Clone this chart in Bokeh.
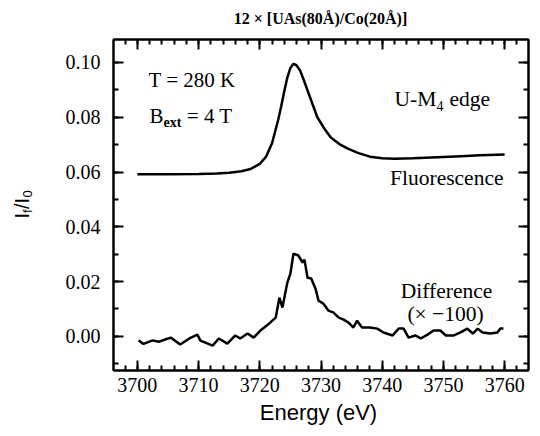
import math
from bokeh.plotting import figure
from bokeh.models import (LinearAxis, SingleIntervalTicker, PrintfTickFormatter, Label,
                          CustomJSTickFormatter)
from bokeh.embed import file_html
from bokeh.resources import INLINE

# ---- data ----
fluo_e = [3700, 3705, 3710, 3713, 3715, 3717, 3718.5, 3720, 3721, 3722, 3723, 3723.5,
          3724, 3724.5, 3725, 3725.5, 3726, 3726.6, 3727.2, 3727.8, 3728.5, 3729.4,
          3730.5, 3731.6, 3733, 3734.3, 3736, 3738, 3740, 3742, 3745, 3748, 3752, 3756, 3760]
fluo_i = [0.0592, 0.0592, 0.0593, 0.0595, 0.0597, 0.0603, 0.0611, 0.0630, 0.0655, 0.0705,
          0.0790, 0.0840, 0.0895, 0.0945, 0.0980, 0.0995, 0.0990, 0.0970, 0.0935, 0.0898,
          0.0855, 0.0800, 0.0760, 0.0726, 0.0702, 0.0686, 0.0670, 0.0656, 0.0650, 0.0648,
          0.0650, 0.0653, 0.0657, 0.0661, 0.0664]

diff_e = [3700.2, 3701.0, 3702.5, 3703.5, 3704.5, 3705.5, 3707.0, 3708.5, 3709.8, 3710.3,
          3712.3, 3713.3, 3714.7, 3716.0, 3716.8, 3718.0, 3719.0, 3720.1, 3721.5, 3722.6,
          3723.2, 3723.7, 3724.5, 3725.0, 3725.5, 3726.3, 3727.0, 3727.3, 3727.8, 3728.4,
          3729.1, 3729.6, 3730.4, 3731.2, 3732.0, 3732.9, 3733.7, 3734.5, 3735.3, 3735.9,
          3736.7, 3738.0, 3739.2, 3740.2, 3741.7, 3742.7, 3743.5, 3744.3, 3745.4, 3746.3,
          3747.4, 3748.4, 3749.5, 3750.4, 3751.7, 3752.8, 3753.9, 3754.8, 3755.6, 3756.4,
          3757.7, 3758.8, 3759.3, 3759.8]
diff_i = [-0.0015, -0.0028, -0.0015, -0.0020, -0.0012, -0.0005, -0.0030, -0.0008, 0.0006, -0.0016,
          -0.0034, -0.0008, -0.0027, 0.0003, -0.0008, 0.0010, -0.0005, 0.0021, 0.0046, 0.0068,
          0.0141, 0.0105, 0.0196, 0.0229, 0.0302, 0.0295, 0.0269, 0.0280, 0.0214, 0.0211,
          0.0174, 0.0130, 0.0119, 0.0094, 0.0087, 0.0068, 0.0061, 0.0050, 0.0032, 0.0057,
          0.0032, 0.0032, 0.0028, 0.0014, 0.0003, 0.0028, 0.0028, -0.0005, 0.0003, -0.0008,
          0.0006, 0.0021, 0.0021, 0.0003, 0.0003, 0.0014, 0.0028, 0.0010, 0.0028, 0.0014,
          0.0010, 0.0014, 0.0028, 0.0028]

title_text = "12 × [UAs(80Å)/Co(20Å)]"
x_label = "Energy (eV)"

SERIF = "Liberation Serif"
SANS = "Liberation Sans"

# frame in picture pixels: left 113, top 39, right 528, bottom 370
W, H = 532, 428
FL, FT, FR, FB = 113, 39, 528, 370
K = 0.34  # empirical shift of the drawn baseline, in em

p = figure(width=W, height=H, x_range=(3696.1, 3763.9), y_range=(-0.0125, 0.1084),
           output_backend="svg", toolbar_location=None,
           min_border_left=FL, min_border_right=W - FR, min_border_top=FT,
           min_border_bottom=H - FB)
p.xgrid.visible = False
p.ygrid.visible = False
p.background_fill_color = "white"
p.border_fill_color = "white"
p.outline_line_color = "black"
p.outline_line_width = 2

p.xaxis.ticker = SingleIntervalTicker(interval=10, num_minor_ticks=5)
p.yaxis.ticker = SingleIntervalTicker(interval=0.02, num_minor_ticks=2)
p.xaxis.formatter = PrintfTickFormatter(format="%d")
p.yaxis.formatter = PrintfTickFormatter(format="%.2f")

blank = CustomJSTickFormatter(code="return ''")
top = LinearAxis(ticker=SingleIntervalTicker(interval=10, num_minor_ticks=5), formatter=blank)
right = LinearAxis(ticker=SingleIntervalTicker(interval=0.02, num_minor_ticks=2), formatter=blank)
p.add_layout(top, "above")
p.add_layout(right, "right")
for ax in (top, right):
    ax.major_label_standoff = 0

for ax in p.axis:
    ax.axis_line_width = 2
    ax.axis_line_color = "black"
    ax.major_tick_in = 10
    ax.major_tick_out = 0
    ax.minor_tick_in = 5
    ax.minor_tick_out = 0
    ax.major_tick_line_width = 2
    ax.minor_tick_line_width = 2
    ax.major_tick_line_color = "black"
    ax.minor_tick_line_color = "black"

bx = p.below[0]
bx.major_label_text_font = SERIF
bx.major_label_text_font_size = "20px"
bx.major_label_text_color = "black"
bx.major_label_standoff = 7
ly = p.left[0]
ly.major_label_text_font = SERIF
ly.major_label_text_font_size = "20px"
ly.major_label_text_color = "black"
ly.major_label_standoff = 13

p.line(fluo_e, fluo_i, line_color="black", line_width=2.5)
p.line(diff_e, diff_i, line_color="black", line_width=2.5)


def L(text, ix, iy, size, font=SERIF, align="left", style="normal"):
    """Label inside the frame; (ix, iy) = wanted baseline point in picture pixels."""
    p.add_layout(Label(x=ix - FL, y=FB - (iy - K * size), x_units="screen", y_units="screen",
                       text=text, text_font=font, text_font_size=f"{size}px",
                       text_font_style=style, text_align=align, text_baseline="alphabetic",
                       text_color="black"))


def C(side, text, ix, iy, size, font=SERIF, align="left", style="normal", rotated=False):
    """Label outside the frame, in a side panel, positioned in canvas pixels."""
    if rotated:
        x, y, ang = ix - K * size, iy, math.pi / 2
    else:
        x, y, ang = ix, iy - K * size, 0.0
    p.add_layout(Label(x=x, y=y, x_units="canvas", y_units="canvas",
                       text=text, text_font=font, text_font_size=f"{size}px",
                       text_font_style=style, text_align=align, text_baseline="alphabetic",
                       text_color="black", angle=ang), side)


# title
C("above", title_text, 320, 23, 16, style="bold", align="center")
# x axis label
C("below", x_label, 318, 419, 22, font=SANS, align="center")
# y axis label I_f/I_0 (rotated, reads bottom to top; x = baseline position)
C("left", "I\u2009/I", 28, 218, 20, font=SANS, rotated=True)
C("left", "f", 31, 212.4, 13, font=SANS, rotated=True)
C("left", "0", 31, 197, 13, font=SANS, rotated=True)

# annotations (baseline points)
L("T = 280 K", 148, 87, 21)
L("B", 149, 123, 21)
L("ext", 163, 127, 14, style="bold")
L("= 4 T", 232, 123, 21, align="right")
L("U-M", 394, 106, 21.5)
L("4", 436, 110, 14)
L("edge", 449, 106, 21.5)
L("Fluorescence", 503, 185, 21.5, align="right")
L("Difference", 446, 298, 21.5, align="center")
L("(× −100)", 445, 321, 21.5, align="center")

open("out.html", "w").write(file_html(p, INLINE))
